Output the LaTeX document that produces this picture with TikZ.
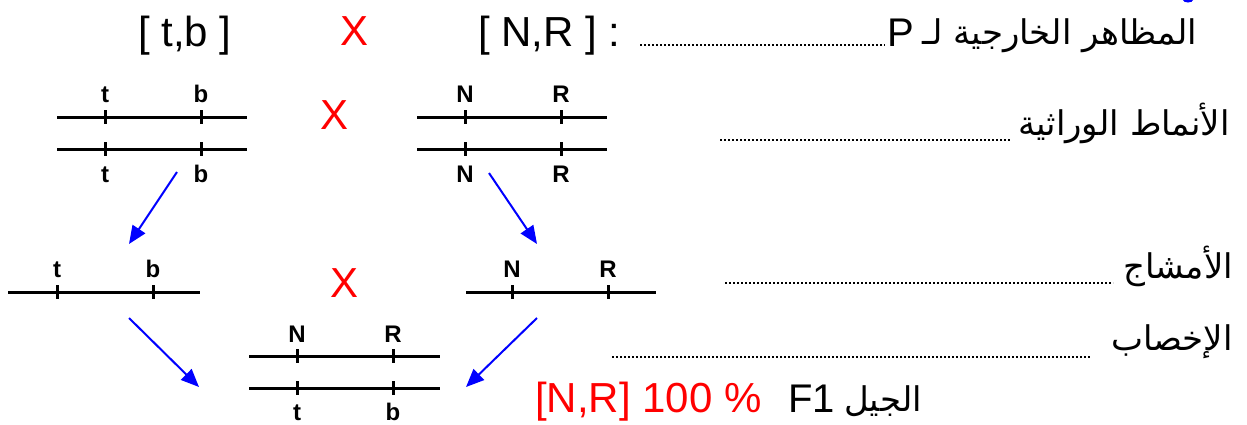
\documentclass[tikz,border=0pt]{standalone}
\usepackage{fontspec}
\setmainfont{Liberation Sans}
\newfontfamily\arabicfont[Script=Arabic]{DejaVu Sans}
\TeXXeTstate=1
\usetikzlibrary{arrows.meta}
\begin{document}
\begin{tikzpicture}[x=1pt,y=-1pt,
  chrom/.style={line width=3pt},
  lab/.style={font=\fontsize{24}{24}\selectfont\bfseries, inner sep=0pt, anchor=base},
  big/.style={font=\fontsize{42}{42}\selectfont, inner sep=0pt, anchor=base west},
  redx/.style={font=\fontsize{42}{42}\selectfont, text=red, inner sep=0pt, anchor=center},
  ar/.style={font=\fontsize{34}{34}\selectfont\arabicfont, inner sep=0pt, anchor=base east},
  dots/.style={line width=1.6pt, dash pattern=on 1.6pt off 2.4pt},
  garrow/.style={blue, line width=2pt, -{Triangle[length=18pt,width=15pt]}}]
\useasboundingbox (0,0) rectangle (1247,424);

% top row
\node[big] (p1) at (138,46) {[ t,b ]};
\node[redx] (x1) at (355,31) {X};
\node[big] (p2) at (478,46) {[ N,R ] :};
\coordinate (d1a) at (640,45); \coordinate (d1b) at (885,45);
\draw[dots] (d1a) -- (d1b);
\node[big, font=\fontsize{40}{40}\selectfont] (pp) at (887,46) {P};
\node[ar] (t1) at (1197,44) {\beginR المظاهر الخارجية لـ\endR};

% chromosome pair left
\foreach \y in {117,149} {
  \draw[chrom] (57,\y) -- (247,\y);
  \draw[chrom] (105,\y-7) -- (105,\y+7);
  \draw[chrom] (201,\y-7) -- (201,\y+7);
}
\node[lab] (lt1) at (105,102) {t};
\node[lab] (lb1) at (201,102) {b};
\node[lab] (lt2) at (105,182) {t};
\node[lab] (lb2) at (201,182) {b};

\node[redx] (x2) at (335,115) {X};

% chromosome pair right
\foreach \y in {117,149} {
  \draw[chrom] (417,\y) -- (607,\y);
  \draw[chrom] (465,\y-7) -- (465,\y+7);
  \draw[chrom] (561,\y-7) -- (561,\y+7);
}
\node[lab] (rn1) at (465,102) {N};
\node[lab] (rr1) at (561,102) {R};
\node[lab] (rn2) at (465,182) {N};
\node[lab] (rr2) at (561,182) {R};

\node[ar] (t2) at (1230,135) {\beginR الأنماط الوراثية\endR};
\coordinate (d2a) at (720,140); \coordinate (d2b) at (1010,140);
\draw[dots] (d2a) -- (d2b);

% arrows to gametes
\coordinate (a1s) at (177,172); \coordinate (a1e) at (129,244);
\coordinate (a2s) at (489,173); \coordinate (a2e) at (537,244);
\draw[garrow] (a1s) -- (a1e);
\draw[garrow] (a2s) -- (a2e);

% gametes
\draw[chrom] (8,292) -- (200,292);
\draw[chrom] (57,285) -- (57,299);
\draw[chrom] (153,285) -- (153,299);
\node[lab] (gt) at (57,277) {t};
\node[lab] (gb) at (153,277) {b};

\node[redx] (x3) at (345,283) {X};

\draw[chrom] (466,292) -- (656,292);
\draw[chrom] (512,285) -- (512,299);
\draw[chrom] (608,285) -- (608,299);
\node[lab] (gn) at (512,277) {N};
\node[lab] (gr) at (608,277) {R};

\node[ar] (t3) at (1233,278) {\beginR الأمشاج\endR};
\coordinate (d3a) at (725,283); \coordinate (d3b) at (1113,283);
\draw[dots] (d3a) -- (d3b);

% arrows to zygote
\coordinate (a3s) at (129,318); \coordinate (a3e) at (199,387);
\coordinate (a4s) at (537,318); \coordinate (a4e) at (466,387);
\draw[garrow] (a3s) -- (a3e);
\draw[garrow] (a4s) -- (a4e);

\node[ar] (t4) at (1233,350) {\beginR الإخصاب\endR};
\coordinate (d4a) at (612,357); \coordinate (d4b) at (1090,357);
\draw[dots] (d4a) -- (d4b);

% zygote
\foreach \y in {356,388} {
  \draw[chrom] (249,\y) -- (440,\y);
  \draw[chrom] (297,\y-7) -- (297,\y+7);
  \draw[chrom] (393,\y-7) -- (393,\y+7);
}
\node[lab] (zn) at (297,342) {N};
\node[lab] (zr) at (393,342) {R};
\node[lab] (zt) at (297,420) {t};
\node[lab] (zb) at (393,420) {b};

% F1
\node[ar] (t5) at (922,411) {\beginR الجيل\endR};
\node[big, font=\fontsize{40}{40}\selectfont, anchor=base west] (f1) at (788,412) {F1};
\node[big, anchor=base west, text=red] (res) at (535,412) {[N,R] 100 \%};

\fill[blue] (1188,0) ellipse (5 and 2.5);
\end{tikzpicture}
\end{document}
